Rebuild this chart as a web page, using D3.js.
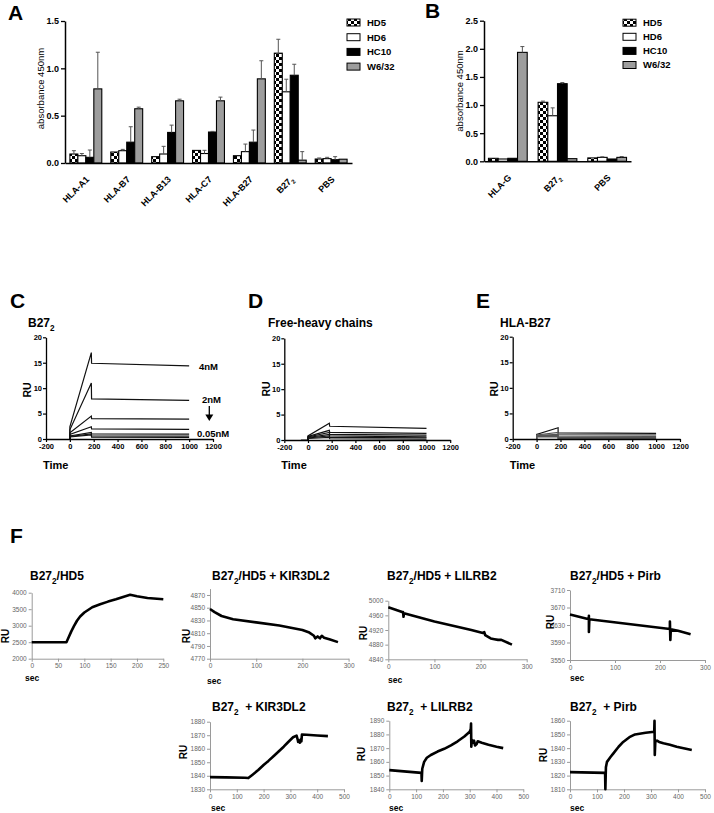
<!DOCTYPE html>
<html><head><meta charset="utf-8">
<script src="https://cdn.jsdelivr.net/npm/d3@7"></script>
<style>
body{margin:0;background:#fff;}
svg text{font-family:Arial,"Liberation Sans",Helvetica,sans-serif;}
</style></head><body>
<svg id="fig" width="714" height="813"></svg>
<script>
// ================= DATA =================
const seriesNames = ["HD5","HD6","HC10","W6/32"];

// Panel A
const groupsA = ["HLA-A1","HLA-B7","HLA-B13","HLA-C7","HLA-B27","B27_2","PBS"];
const hd5A   = [0.095,0.116,0.067,0.133,0.077,1.160,0.042];
const hd6A   = [0.077,0.130,0.095,0.100,0.120,0.752,0.046];
const hc10A  = [0.060,0.220,0.323,0.327,0.220,0.927,0.035];
const w632A  = [0.783,0.573,0.657,0.657,0.889,0.030,0.040];
const hd5AErr  = [0.035,0.004,0.004,0.004,0.004,0.147,0.011];
const hd6AErr  = [0.023,0.014,0.081,0.034,0.080,0.133,0.014];
const hc10AErr = [0.077,0.163,0.077,0.007,0.128,0.116,0.032];
const w632AErr = [0.387,0.017,0.017,0.039,0.191,0.090,0.005];
const ticksA = [0,0.5,1.0,1.5];

// Panel B
const groupsB = ["HLA-G","B27_2","PBS"];
const hd5B   = [0.053,1.049,0.060];
const hd6B   = [0.041,0.810,0.070];
const hc10B  = [0.053,1.380,0.041];
const w632B  = [1.937,0.047,0.070];
const hd5BErr  = [0.004,0.021,0.005];
const hd6BErr  = [0.003,0.140,0.010];
const hc10BErr = [0.003,0.020,0.003];
const w632BErr = [0.103,0.003,0.015];
const ticksB = [0,0.5,1.0,1.5,2.0,2.5];

// Panels C-E (SPR sensorgrams: [time, RU])
const timeTicks = [-200,0,200,400,600,800,1000,1200];
const ruTicks = [0,5,10,15,20];
const curvesC = [
  [[0,0],[0,2.4],[180,17.0],[182,14.9],[1000,14.4]],
  [[0,0],[0,1.8],[180,11.0],[182,7.9],[1000,7.6]],
  [[0,0],[0,1.2],[180,4.5],[182,4.0],[1000,3.9]],
  [[0,0],[0,0.9],[180,2.4],[182,2.0],[1000,1.9]],
  [[0,0],[0,0.6],[180,1.3],[182,1.0],[1000,0.95]],
  [[0,0],[0,0.5],[180,1.0],[182,0.6],[1000,0.55]],
  [[0,0],[0,0.4],[180,0.8],[182,0.35],[1000,0.3]]
];
const curvesD = [
  [[-60,0],[0,0],[0,0.8],[180,3.3],[183,2.7],[1000,2.3]],
  [[0,0],[0,0.7],[180,1.9],[183,1.5],[1000,1.3]],
  [[0,0],[0,0.6],[180,1.5],[183,1.1],[1000,0.95]],
  [[0,0],[0,0.5],[180,1.1],[183,0.8],[1000,0.6]],
  [[0,0],[0,0.4],[180,0.8],[183,0.5],[1000,0.4]],
  [[0,0],[0,0.3],[180,0.5],[183,0.25],[1000,0.15]]
];
const curvesE = [
  [[0,0],[0,0.9],[180,2.2],[180,1.2],[1000,1.1]],
  [[0,0],[0,0.8],[180,1.3],[180,0.85],[1000,0.8]],
  [[0,0],[0,0.7],[180,0.9],[180,0.55],[1000,0.5]],
  [[0,0],[0,0.6],[180,0.7],[180,0.3],[1000,0.28]],
  [[0,0],[0,0.5],[180,0.55],[180,0.1],[1000,0.1]],
  [[0,0],[0,0.4],[180,0.4],[180,0],[1000,0]]
];
const concLabels = ["4nM","2nM","0.05nM"];

// Panel F sensorgrams [sec, RU]
const f1Data = [[0,2500],[66,2500],[70,2640],[75,2820],[80,2980],[86,3150],[92,3280],[100,3400],[115,3560],[130,3650],[145,3730],[160,3800],[175,3880],[187,3935],[200,3890],[220,3840],[250,3800]];
const f2Data = [[0,4848],[10,4843],[25,4837],[50,4832],[100,4827],[150,4822],[200,4815],[215,4811],[225,4806],[228,4802],[233,4805],[238,4802],[242,4806],[247,4803],[260,4800],[277,4796]];
const f3Data = [[0,4982],[30,4969],[32,4969],[33,4956],[34,4966],[100,4943],[180,4920],[205,4912],[208,4914],[210,4906],[222,4897],[230,4895],[238,4893],[245,4893],[268,4880]];
const f4Data = [[0,3654],[42,3643],[42,3651],[42,3614],[43,3643],[222,3621],[222,3638],[223,3596],[224,3620],[240,3617],[268,3609]];
const f5Data = [[0,1839],[60,1838.8],[130,1838.5],[143,1838.3],[160,1841],[180,1844.3],[200,1848],[218,1851],[240,1855],[255,1857.8],[275,1861.5],[292,1865],[310,1868.5],[323,1869.7],[327,1867],[329,1865],[333,1866],[336,1864.5],[339,1867],[341,1865.5],[343,1870.5],[360,1870.3],[400,1869.8],[440,1869.3]];
const f6Data = [[0,1854],[120,1852],[121,1846],[123,1855],[130,1860],[140,1863],[155,1865],[180,1867.5],[205,1869.5],[230,1872],[255,1875],[280,1878.5],[300,1882],[304,1884],[305,1888],[306,1871],[308,1876],[312,1874],[316,1875.5],[320,1872],[326,1873],[330,1875],[345,1874],[370,1872.5],[400,1871],[425,1870]];
const f7Data = [[0,1822.5],[130,1822],[131,1810],[133,1826],[137,1830],[150,1833.5],[160,1836],[180,1841],[197,1844.5],[220,1848],[241,1850],[280,1851.2],[312,1852],[313,1860],[314,1835],[316,1845],[322,1845.5],[330,1844.5],[346,1843.5],[370,1842.5],[395,1841],[425,1839.7],[451,1838.6]];

// ================= DRAWING =================
const FONT = "Arial, 'Liberation Sans', Helvetica, sans-serif";
const svg = d3.select("#fig");
svg.append("rect").attr("width",714).attr("height",813).attr("fill","#fff");
const defs = svg.append("defs");
const pat = defs.append("pattern").attr("id","checker").attr("width",6).attr("height",6).attr("patternUnits","userSpaceOnUse");
pat.append("rect").attr("width",6).attr("height",6).attr("fill","#fff");
pat.append("rect").attr("width",3).attr("height",3).attr("fill","#000");
pat.append("rect").attr("x",3).attr("y",3).attr("width",3).attr("height",3).attr("fill","#000");
const seriesFill = ["url(#checker)","#fff","#000","#9d9d9d"];

function rich(t, str, fs) {
  t.text(null);
  const parts = String(str).split("_2");
  parts.forEach((p, i) => {
    if (i > 0) {
      t.append("tspan").attr("dy", fs*0.3).attr("font-size", fs*0.68).text("2");
      if (p.length) t.append("tspan").attr("dy", -fs*0.3).attr("font-size", fs).text(p);
    } else if (p.length) t.append("tspan").text(p);
  });
}
function label(x, y, str, fs, opts={}) {
  const t = svg.append("text").attr("x",x).attr("y",y).attr("font-size",fs)
    .attr("font-weight", opts.weight||"bold").attr("fill", opts.fill||"#000")
    .attr("text-anchor", opts.anchor||"start").attr("font-family",FONT);
  if (opts.rotate) t.attr("x",null).attr("y",null).attr("transform",`translate(${x},${y}) rotate(${opts.rotate})`);
  rich(t, str, fs);
  return t;
}

function barChart(cfg) {
  const g = svg.append("g");
  const x0 = d3.scaleBand().domain(cfg.groups).range(cfg.xr).paddingInner(0.22).paddingOuter(cfg.po);
  const x1 = d3.scaleBand().domain(seriesNames).range([0, x0.bandwidth()]);
  const y = d3.scaleLinear().domain([0, cfg.max]).range(cfg.yr);
  cfg.groups.forEach((grp, gi) => {
    seriesNames.forEach((s, si) => {
      const v = cfg.values[si][gi], e = cfg.errors[si][gi];
      const bx = x0(grp) + x1(s), bw = x1.bandwidth(), cx = bx + bw/2;
      g.append("rect").attr("x",bx).attr("y",y(v)).attr("width",bw).attr("height",y(0)-y(v))
        .attr("fill",seriesFill[si]).attr("stroke","#000").attr("stroke-width",1.1);
      if (e > 0.006) {
        g.append("line").attr("x1",cx).attr("x2",cx).attr("y1",y(v)).attr("y2",y(v+e)).attr("stroke","#555").attr("stroke-width",1);
        g.append("line").attr("x1",cx-2).attr("x2",cx+2).attr("y1",y(v+e)).attr("y2",y(v+e)).attr("stroke","#555").attr("stroke-width",1);
      }
    });
  });
  const ya = g.append("g").attr("transform",`translate(${cfg.xr[0]},0)`)
    .call(d3.axisLeft(y).tickValues(cfg.ticks).tickFormat(d3.format(".1f")).tickSize(4).tickSizeOuter(0).tickPadding(2));
  ya.attr("font-family",FONT).attr("font-size",9).attr("font-weight","bold");
  ya.select(".domain").attr("stroke-width",1.5);
  ya.selectAll(".tick line").attr("stroke-width",1.3);
  const xa = g.append("g").attr("transform",`translate(0,${y(0)})`)
    .call(d3.axisBottom(x0).tickSize(0).tickSizeOuter(0));
  xa.attr("font-family",FONT).attr("font-size",9).attr("font-weight","bold");
  xa.select(".domain").attr("stroke-width",1.5);
  xa.selectAll(".tick text").each(function(d){ rich(d3.select(this), d, 9); })
    .attr("y",null).attr("dy",null).attr("text-anchor","end").attr("transform","translate(4,17) rotate(-45)");
  label(cfg.ylab[0], cfg.ylab[1], "absorbance 450nm", 9.5, {weight:"normal", anchor:"middle", rotate:-90});
  seriesNames.forEach((s, i) => {
    const cy = cfg.leg[1] + i*cfg.leg[2];
    g.append("rect").attr("x",cfg.leg[0]).attr("y",cy-3.5).attr("width",13).attr("height",7)
      .attr("fill",seriesFill[i]).attr("stroke","#000").attr("stroke-width",1);
    label(cfg.leg[0]+20, cy+3.4, s, 9.5);
  });
}

barChart({groups:groupsA, values:[hd5A,hd6A,hc10A,w632A], errors:[hd5AErr,hd6AErr,hc10AErr,w632AErr],
  xr:[65,352], yr:[163,21], max:1.5, ticks:ticksA, po:0.12, ylab:[43.5,88.5], leg:[347,22.5,14.7]});
barChart({groups:groupsB, values:[hd5B,hd6B,hc10B,w632B], errors:[hd5BErr,hd6BErr,hc10BErr,w632BErr],
  xr:[484,631], yr:[161.3,20.7], max:2.5, ticks:ticksB, po:0.09, ylab:[462.5,91], leg:[623,22.7,14.1]});
label(8,20,"A",21); label(425,18,"B",21);

function sprPanel(cfg) {
  const g = svg.append("g");
  const x = d3.scaleLinear().domain([-200,1200]).range(cfg.xr);
  const y = d3.scaleLinear().domain([0,20]).range(cfg.yr);
  const line = d3.line().x(d=>x(d[0])).y(d=>y(d[1]));
  cfg.curves.forEach((c, i) => {
    g.append("path").attr("d",line(c)).attr("fill","none")
      .attr("stroke", cfg.color(i)).attr("stroke-width",1.2);
  });
  const xa = g.append("g").attr("transform",`translate(0,${cfg.yr[0]})`)
    .call(d3.axisBottom(x).tickValues(timeTicks).tickFormat(d=>String(d)).tickSize(3).tickSizeOuter(0).tickPadding(2));
  const ya = g.append("g").attr("transform",`translate(${cfg.xr[0]},0)`)
    .call(d3.axisLeft(y).tickValues(ruTicks).tickSize(3).tickSizeOuter(0).tickPadding(1));
  [xa,ya].forEach(a => { a.attr("font-family",FONT).attr("font-size",7.5).attr("font-weight","bold");
    a.select(".domain").attr("stroke-width",1.3); a.selectAll(".tick line").attr("stroke-width",1.2); });
  label(cfg.title[0], cfg.title[1], cfg.titleText, 12);
  label(cfg.xr[0]-3, 469, "Time", 11);
  label(cfg.ru[0], cfg.ru[1], "RU", 10.5, {anchor:"middle", rotate:-90});
  return {x, y};
}
const sc = sprPanel({curves:curvesC, xr:[46,213], yr:[439,337.3], title:[28,327], titleText:"B27_2", ru:[30.5,390], color:()=>"#111"});
sprPanel({curves:curvesD, xr:[284.3,450.2], yr:[440,338.3], title:[268,327], titleText:"Free-heavy chains", ru:[269.5,389], color:()=>"#111"});
sprPanel({curves:curvesE, xr:[512.7,680], yr:[439,336.7], title:[500,327], titleText:"HLA-B27", ru:[497.5,389], color:i=> i===0?"#111":"#555"});
label(10,308,"C",21); label(248,308,"D",21); label(476,308,"E",21);
// concentration labels and arrow in C
label(199,369.5,concLabels[0],9.5);
label(202,402.5,concLabels[1],9.5);
label(197,436.5,concLabels[2],9.5);
svg.append("line").attr("x1",209.3).attr("x2",209.3).attr("y1",406).attr("y2",415).attr("stroke","#000").attr("stroke-width",1.3);
svg.append("path").attr("d","M205.3,414.5 L213.3,414.5 L209.3,421 Z").attr("fill","#000");

function fPanel(cfg) {
  const g = svg.append("g");
  const x = d3.scaleLinear().domain(cfg.xd).range(cfg.xr);
  const y = d3.scaleLinear().domain(cfg.yd).range(cfg.yr);
  const xa = g.append("g").attr("transform",`translate(0,${cfg.yr[0]})`)
    .call(d3.axisBottom(x).tickValues(cfg.xt).tickSize(3).tickSizeOuter(0).tickPadding(2));
  const ya = g.append("g").attr("transform",`translate(${cfg.xr[0]},0)`)
    .call(d3.axisLeft(y).tickValues(cfg.yt).tickFormat(d3.format("d")).tickSize(3).tickSizeOuter(0).tickPadding(2));
  [xa,ya].forEach(a => { a.attr("font-family",FONT).attr("font-size",6.5).attr("fill","#666");
    a.select(".domain").attr("stroke","#9a9a9a"); a.selectAll(".tick line").attr("stroke","#9a9a9a");
    a.selectAll(".tick text").attr("fill","#666"); });
  const line = d3.line().x(d=>x(d[0])).y(d=>y(d[1]));
  g.append("path").attr("d",line(cfg.data)).attr("fill","none").attr("stroke","#000")
    .attr("stroke-width",2.6).attr("stroke-linejoin","round");
  label(cfg.title[0], cfg.title[1], cfg.titleText, 12);
  label(cfg.ru[0], cfg.ru[1], "RU", 10, {anchor:"middle", rotate:-90});
  label(cfg.sec[0], cfg.sec[1], "sec", 8.5);
}
fPanel({data:f1Data, xd:[0,250], xr:[31.7,163.3], yd:[2000,4000], yr:[658.7,592.7], xt:d3.range(0,251,50), yt:d3.range(2000,4001,500),
  title:[30,580], titleText:"B27_2/HD5", ru:[8.5,636], sec:[25,681]});
fPanel({data:f2Data, xd:[0,300], xr:[210,348.6], yd:[4770,4880], yr:[658.7,588.6], xt:[0,100,200,300], yt:d3.range(4770,4871,20),
  title:[212,580], titleText:"B27_2/HD5 + KIR3DL2", ru:[190,636], sec:[207,684]});
fPanel({data:f3Data, xd:[0,300], xr:[388.3,526.7], yd:[4840,5000], yr:[659.3,600.7], xt:[0,100,200,300], yt:d3.range(4840,5001,40),
  title:[387,580], titleText:"B27_2/HD5 + LILRB2", ru:[367,633], sec:[388,683]});
fPanel({data:f4Data, xd:[0,300], xr:[570,705], yd:[3550,3710], yr:[660,590], xt:[0,100,200,300], yt:d3.range(3550,3711,40),
  title:[570,580], titleText:"B27_2/HD5 + Pirb", ru:[553.5,622], sec:[570,681]});
fPanel({data:f5Data, xd:[0,500], xr:[210,344], yd:[1830,1880], yr:[789.3,721.7], xt:d3.range(0,501,100), yt:d3.range(1830,1881,10),
  title:[212,711], titleText:"B27_2\u00a0 + KIR3DL2", ru:[187,752], sec:[211,811]});
fPanel({data:f6Data, xd:[0,500], xr:[389.3,523.3], yd:[1840,1890], yr:[789.3,720.7], xt:d3.range(0,501,100), yt:d3.range(1840,1891,10),
  title:[387,711], titleText:"B27_2\u00a0 + LILRB2", ru:[365,754], sec:[389,811]});
fPanel({data:f7Data, xd:[0,500], xr:[570,705], yd:[1810,1860], yr:[789.3,720.7], xt:d3.range(0,501,100), yt:d3.range(1810,1861,10),
  title:[570,711], titleText:"B27_2\u00a0 + Pirb", ru:[547,755], sec:[570,811]});
label(10,543,"F",21);
</script>
</body></html>
